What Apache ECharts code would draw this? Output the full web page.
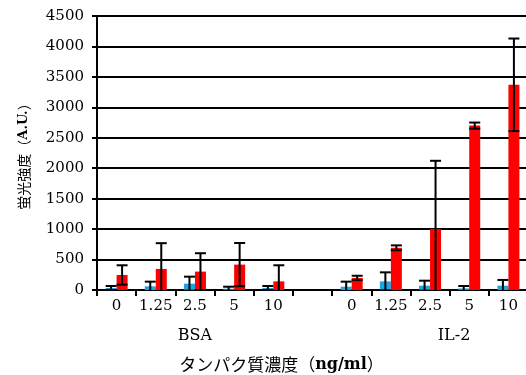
<!DOCTYPE html>
<html><head><meta charset="utf-8">
<script src="https://cdn.jsdelivr.net/npm/echarts@6/dist/echarts.min.js"></script>
<style>html,body{margin:0;padding:0;background:#fff}#c{width:526px;height:375px}</style>
</head><body><div id="c"></div>
<script>
var categories = ['0','1.25','2.5','5','10','','0','1.25','2.5','5','10'];
var groupLabels = ['', '', 'BSA', '', '', '', '', '', 'IL-2', '', ''];
var blueValues = [33, 60, 104, 21, 33, null, 54, 142, 71, 26, 71];
var blueErrors = [33, 77, 115, 33, 33, null, 83, 148, 82, 40, 94];
var redValues  = [247, 346, 302, 417, 142, null, 198, 693, 1000, 2700, 3370];
var redErrors  = [159, 423, 302, 355, 264, null, 36, 40, 1122, 50, 760];
var yTicks = {min: 0, max: 4500, interval: 500};

var serif = '"DejaVu Serif", "Liberation Serif", serif';
var jp = '"Noto Sans CJK JP", sans-serif';
var BW = 11;

function errSeries(vals, errs, off) {
  var data = vals.map(function (v, i) { return v == null ? null : [i, v, errs[i]]; }).filter(function (d) { return d; });
  return {
    type: 'custom', clip: true, z: 10,
    data: data,
    renderItem: function (params, api) {
      var i = api.value(0), v = api.value(1), e = api.value(2);
      var hi = api.coord([i, v + e]);
      var lo = api.coord([i, v - e]);
      var x = hi[0] + off;
      var cw = BW / 2;
      var st = {stroke: '#000', lineWidth: 2};
      return {type: 'group', children: [
        {type: 'line', shape: {x1: x, y1: hi[1], x2: x, y2: lo[1]}, style: st},
        {type: 'line', shape: {x1: x - cw, y1: hi[1], x2: x + cw, y2: hi[1]}, style: st},
        {type: 'line', shape: {x1: x - cw, y1: lo[1], x2: x + cw, y2: lo[1]}, style: st}
      ]};
    },
    encode: {x: 0, y: 1}
  };
}

var chart = echarts.init(document.getElementById('c'));
chart.setOption({
  animation: false,
  grid: {left: 97, right: -2, top: 16, bottom: 85, containLabel: false, outerBoundsMode: 'none'},
  xAxis: [{
    type: 'category', data: categories, boundaryGap: true,
    axisLine: {lineStyle: {color: '#000', width: 2}},
    axisTick: {show: true, length: 6, lineStyle: {color: '#000', width: 2}},
    axisLabel: {color: '#000', fontFamily: serif, fontSize: 15, margin: 9, interval: 0},
    name: '{j|タンパク質濃度（}{b|ng/ml}{j|）}', nameLocation: 'middle', nameGap: 66,
    nameTextStyle: {padding: [0, 62, 0, 0], rich: {
      j: {color: '#000', fontFamily: jp, fontSize: 17},
      b: {color: '#000', fontFamily: serif, fontSize: 16, fontWeight: 'bold'}
    }}
  }, {
    type: 'category', data: groupLabels, position: 'bottom', offset: 30,
    axisLine: {show: false}, axisTick: {show: false},
    axisLabel: {color: '#000', fontFamily: serif, fontSize: 16, interval: 0,
      formatter: function (v) { return v === 'IL-2' ? '{r|' + v + '}' : v; },
      rich: {r: {color: '#000', fontFamily: serif, fontSize: 16, padding: [0, 0, 0, 48]}}}
  }],
  yAxis: {
    type: 'value', min: yTicks.min, max: yTicks.max, interval: yTicks.interval,
    axisLine: {show: true, lineStyle: {color: '#000', width: 2}},
    axisTick: {show: true, length: 5, lineStyle: {color: '#000', width: 2}},
    axisLabel: {color: '#000', fontFamily: serif, fontSize: 15, margin: 13,
      formatter: function (v) { return String(v); }},
    splitLine: {lineStyle: {color: '#000', width: 2}},
    name: '{j|蛍光強度（}{b|A.U.}{j|）}', nameLocation: 'middle', nameGap: 66, nameRotate: 90,
    nameTextStyle: {rich: {
      j: {color: '#000', fontFamily: jp, fontSize: 14},
      b: {color: '#000', fontFamily: serif, fontSize: 13, fontWeight: 'bold'}
    }}
  },
  series: [
    {type: 'bar', data: blueValues, barWidth: BW, barGap: '0%', itemStyle: {color: '#19A6E6'}},
    {type: 'bar', data: redValues, barWidth: BW, barGap: '0%', itemStyle: {color: '#FF0000'}},
    errSeries(blueValues, blueErrors, -BW / 2),
    errSeries(redValues, redErrors, BW / 2)
  ]
});
</script></body></html>
